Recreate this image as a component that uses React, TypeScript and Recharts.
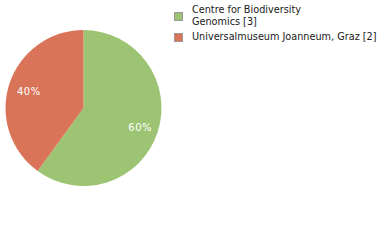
import { PieChart, Pie, Cell, Legend } from "recharts";

// specimen counts per source institution
const sources = ["Centre for Biodiversity\nGenomics", "Universalmuseum Joanneum, Graz"];
const counts = [3, 2];
const colors = ["#9cc473", "#d97459"];

const data = sources.map((name, i) => ({ name, value: counts[i] }));

const RADIAN = Math.PI / 180;
const FONT = "'DejaVu Sans', Verdana, sans-serif";

function SliceLabel(props: any) {
  const { cx, cy, midAngle, outerRadius, percent } = props;
  const r = outerRadius * 0.75;
  const x = cx + r * Math.cos(-midAngle * RADIAN) + 1;
  const y = cy + r * Math.sin(-midAngle * RADIAN) + 1.5;
  return (
    <text
      x={x}
      y={y}
      fill="#ffffff"
      fontSize={10}
      fontFamily={FONT}
      textAnchor="middle"
      dominantBaseline="central"
      letterSpacing={0.5}
    >
      {`${Math.round(percent * 100)}%`}
    </text>
  );
}

function LegendBox() {
  return (
    <div style={{ fontFamily: FONT, fontSize: 9.7, color: "#1a1a1a", lineHeight: "12px" }}>
      {data.map((d, i) => (
        <div key={d.name} style={{ display: "flex", alignItems: "center", marginBottom: 3 }}>
          <div
            style={{
              width: 7,
              height: 7,
              background: colors[i],
              border: "1px solid #999",
              marginRight: 9,
              flexShrink: 0,
            }}
          />
          <div style={{ whiteSpace: "pre" }}>{`${d.name} [${d.value}]`}</div>
        </div>
      ))}
    </div>
  );
}

export default function App() {
  return (
    <div style={{ width: 380, height: 240, background: "#fff" }}>
      <style>{"body{margin:0}"}</style>
      <PieChart width={380} height={240} margin={{ top: 0, right: 0, bottom: 0, left: 0 }}>
        <Pie
          data={data}
          dataKey="value"
          cx={83.5}
          cy={108}
          outerRadius={78}
          startAngle={90}
          endAngle={-270}
          stroke="none"
          label={SliceLabel}
          labelLine={false}
          isAnimationActive={false}
        >
          {data.map((d, i) => (
            <Cell key={d.name} fill={colors[i]} />
          ))}
        </Pie>
        <Legend
          content={<LegendBox />}
          wrapperStyle={{ position: "absolute", left: 174, top: 4, width: 206 }}
        />
      </PieChart>
    </div>
  );
}
